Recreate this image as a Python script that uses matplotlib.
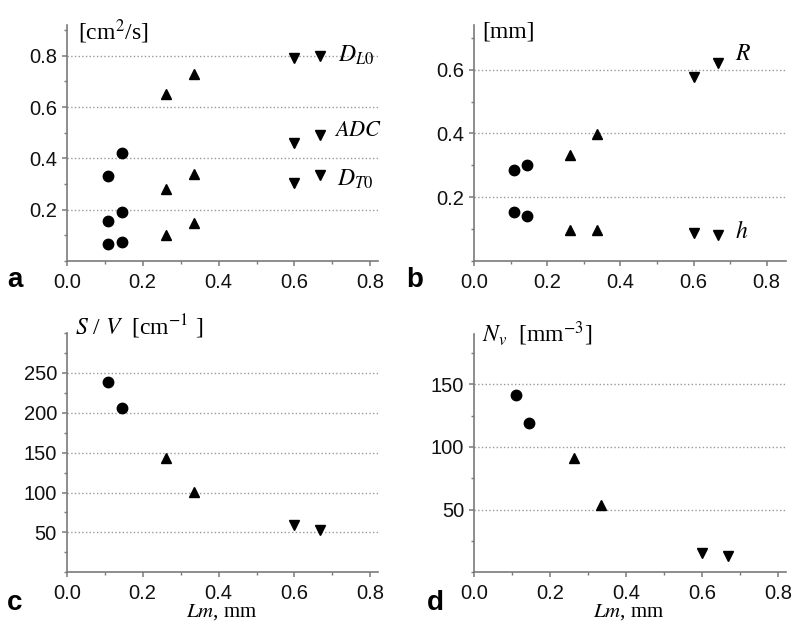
import matplotlib
matplotlib.use('Agg')
import matplotlib.pyplot as plt
from matplotlib.ticker import MultipleLocator

plt.rcParams['font.family'] = 'Liberation Sans'
plt.rcParams['mathtext.fontset'] = 'stix'

# Lm positions for the three groups (circles, up triangles, down triangles)
x_circ = [0.11, 0.145]
x_up = [0.262, 0.335]
x_down = [0.6, 0.667]

# panel a: D_L0, ADC, D_T0  [cm2/s]
a_DL0 = [[0.33, 0.42], [0.65, 0.73], [0.79, 0.80]]
a_ADC = [[0.155, 0.19], [0.28, 0.34], [0.46, 0.49]]
a_DT0 = [[0.065, 0.073], [0.10, 0.15], [0.305, 0.335]]

# panel b: R, h  [mm]
b_R = [[0.285, 0.30], [0.333, 0.397], [0.578, 0.621]]
b_h = [[0.155, 0.14], [0.096, 0.096], [0.087, 0.083]]

# panel c: S/V  [cm-1]
c_SV = [[239, 206], [143, 101], [59, 53]]

# panel d: Nv  [mm-3]
d_Nv = [[141, 119], [91, 54], [15, 13]]

W, H = 800, 633
fig = plt.figure(figsize=(W / 100, H / 100), dpi=100)
serif = 'Liberation Serif'


def make_ax(left, right, bottom, top, xmax=0.82):
    ax = fig.add_axes([left / W, 1 - bottom / H, (right - left) / W, (bottom - top) / H])
    for s in ['top', 'right']:
        ax.spines[s].set_visible(False)
    for s in ['left', 'bottom']:
        ax.spines[s].set_color('#7a7a7a')
        ax.spines[s].set_linewidth(1.2)
    ax.tick_params(which='both', direction='out', color='#7a7a7a', labelsize=14.5, labelcolor='#111111')
    ax.tick_params(which='major', length=3.5, width=1.1)
    ax.tick_params(which='minor', length=2, width=1.0)
    ax.tick_params(axis='x', which='major', pad=5)
    ax.tick_params(axis='y', which='major', pad=3.5)
    ax.set_xlim(0, xmax)
    ax.xaxis.set_major_locator(MultipleLocator(0.2))
    ax.xaxis.set_minor_locator(MultipleLocator(0.1))
    ax.xaxis.set_major_formatter(plt.FormatStrFormatter('%.1f'))
    ax.grid(axis='y', which='major', linestyle=':', color='#999999', linewidth=1.0)
    ax.set_axisbelow(True)
    return ax


def plot_groups(ax, series):
    for ys in series:
        ax.plot(x_circ, ys[0], 'o', color='black', ms=7.5, ls='none')
        ax.plot(x_up, ys[1], '^', color='black', ms=7.5, ls='none')
        ax.plot(x_down, ys[2], 'v', color='black', ms=7.5, ls='none')


# a
ax = make_ax(66.7, 378, 261, 25)
plot_groups(ax, [a_DL0, a_ADC, a_DT0])
ax.set_ylim(0, 0.92)
ax.set_yticks([0.2, 0.4, 0.6, 0.8])
ax.yaxis.set_minor_locator(MultipleLocator(0.1))
ax.yaxis.set_major_formatter(plt.FormatStrFormatter('%.1f'))
ax.text(0.035, 0.97, '[cm$^2$/s]', transform=ax.transAxes, fontsize=17, family=serif, va='center')
ax.text(0.715, 0.80, '$D_{L0}$', fontsize=17, va='center')
ax.text(0.705, 0.51, '$ADC$', fontsize=16, va='center')
ax.text(0.712, 0.317, '$D_{T0}$', fontsize=17, va='center')
fig.text(15 / W, 1 - 280 / H, 'a', fontsize=20, fontweight='bold', ha='center', va='center')

# b
ax = make_ax(474, 785.7, 261, 25, xmax=0.852)
plot_groups(ax, [b_R, b_h])
ax.set_ylim(0, 0.74)
ax.set_yticks([0.2, 0.4, 0.6])
ax.yaxis.set_minor_locator(MultipleLocator(0.1))
ax.yaxis.set_major_formatter(plt.FormatStrFormatter('%.1f'))
ax.text(0.025, 0.97, '[mm]', transform=ax.transAxes, fontsize=17, family=serif, va='center')
ax.text(0.713, 0.65, '$R$', fontsize=17, va='center')
ax.text(0.713, 0.09, '$h$', fontsize=17, va='center')
fig.text(415 / W, 1 - 280 / H, 'b', fontsize=20, fontweight='bold', ha='center', va='center')

# c
ax = make_ax(66.7, 378, 572.3, 333)
plot_groups(ax, [c_SV])
ax.set_ylim(0, 300)
ax.set_yticks([50, 100, 150, 200, 250])
ax.yaxis.set_minor_locator(MultipleLocator(25))
ax.text(0.027, 1.025, '$S$ / $V$  [cm$^{-1}$ ]', transform=ax.transAxes, fontsize=17, family=serif, va='center')
fig.text(222 / W, 1 - 612 / H, '$Lm$, mm', fontsize=15, family=serif, ha='center', va='center')
fig.text(15 / W, 1 - 603 / H, 'c', fontsize=20, fontweight='bold', ha='center', va='center')

# d
ax = make_ax(474, 785.7, 572.3, 334)
plot_groups(ax, [d_Nv])
ax.set_ylim(0, 190)
ax.set_yticks([50, 100, 150])
ax.yaxis.set_minor_locator(MultipleLocator(25))
ax.text(0.025, 1.0, '$N_v$  [mm$^{-3}$]', transform=ax.transAxes, fontsize=17, family=serif, va='center')
fig.text(629 / W, 1 - 612 / H, '$Lm$, mm', fontsize=15, family=serif, ha='center', va='center')
fig.text(435 / W, 1 - 603 / H, 'd', fontsize=20, fontweight='bold', ha='center', va='center')

fig.savefig('out.png', dpi=100)
